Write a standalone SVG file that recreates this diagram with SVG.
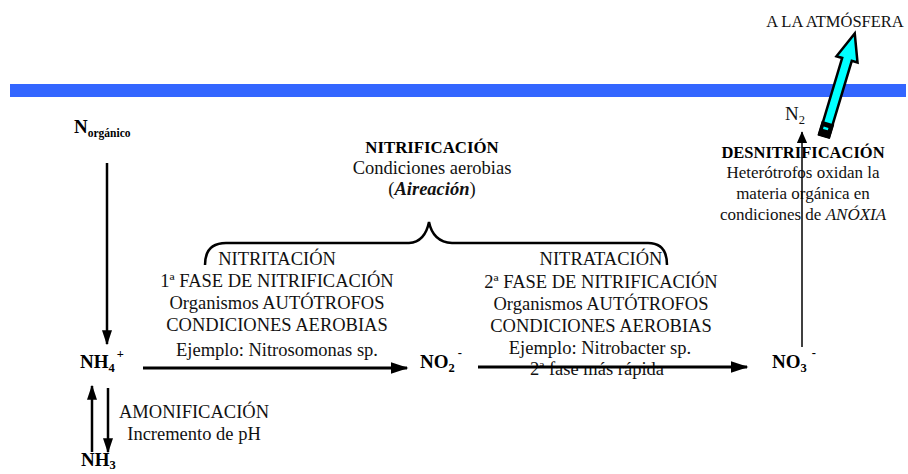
<svg xmlns="http://www.w3.org/2000/svg" width="908" height="474" viewBox="0 0 908 474">
<defs>
<marker id="ah" markerWidth="6" markerHeight="4" refX="5.5" refY="2" orient="auto" markerUnits="strokeWidth"><path d="M0,0 L6,2 L0,4 Z" fill="#000"/></marker>
<marker id="ahThin" markerWidth="8" markerHeight="7" refX="7.5" refY="3.5" orient="auto" markerUnits="strokeWidth"><path d="M0,0 L8,3.5 L0,7 Z" fill="#000"/></marker>
</defs>
<style>
text{font-family:"Liberation Serif","Times New Roman",serif;fill:#111}
.r{font-size:18.5px}
.m{text-anchor:middle}
.b{font-weight:bold;fill:#000}
.f{font-size:19px;font-weight:bold;fill:#000}
.sub{font-size:12.5px}
.line{stroke:#000;fill:none}
</style>
<rect id="surface" x="10" y="84" width="896" height="13" fill="#3366FF"/>
<g id="atmosfera">
<text x="835" y="27" class="m" style="font-size:16.5px">A LA ATMÓSFERA</text>
</g>
<g id="arrow-atm" transform="translate(824,136) rotate(16.7)">
<polygon points="-5,0 -5,-80 -11,-80 0,-107 11,-80 5,-80 5,0" fill="#00FFFF" stroke="#000" stroke-width="2.5" stroke-linejoin="miter"/>
<rect x="-6.5" y="-14" width="13" height="15" fill="#000"/>
<rect x="-3" y="-9" width="5" height="2.5" fill="#00FFFF"/>
</g>
<g id="n2"><text x="785" y="120" style="font-size:19px">N<tspan class="sub" dy="4">2</tspan></text></g>
<g id="norganico"><text x="74" y="133" class="f">N<tspan style="font-size:11.5px" dy="4">orgánico</tspan></text></g>
<g id="nh4"><text x="80" y="368" class="f">NH<tspan class="sub" dy="4">4</tspan><tspan class="sub" dx="2" dy="-14">+</tspan></text></g>
<g id="nh3"><text x="81" y="466" class="f">NH<tspan class="sub" dy="3">3</tspan></text></g>
<g id="no2"><text x="420" y="368" class="f">NO<tspan class="sub" dy="4">2</tspan><tspan class="sub" dx="3" dy="-15">-</tspan></text></g>
<g id="no3"><text x="772" y="368" class="f">NO<tspan class="sub" dy="4">3</tspan><tspan class="sub" dx="5" dy="-15">-</tspan></text></g>
<g id="nitrificacion">
<text x="432" y="153" class="m b" style="font-size:16.8px">NITRIFICACIÓN</text>
<text x="432" y="174" class="m r">Condiciones aerobias</text>
<text x="432" y="195" class="m r">(<tspan font-weight="bold" font-style="italic">Aireación</tspan>)</text>
</g>
<g id="nitritacion">
<text x="277" y="265" class="m r">NITRITACIÓN</text>
<text x="277" y="287" class="m r">1ª FASE DE NITRIFICACIÓN</text>
<text x="277" y="309" class="m r">Organismos AUTÓTROFOS</text>
<text x="277" y="331" class="m r">CONDICIONES AEROBIAS</text>
<text x="277" y="356" class="m r">Ejemplo: Nitrosomonas sp.</text>
</g>
<g id="nitratacion">
<text x="601" y="265" class="m r">NITRATACIÓN</text>
<text x="601" y="288" class="m r">2ª FASE DE NITRIFICACIÓN</text>
<text x="601" y="310" class="m r">Organismos AUTÓTROFOS</text>
<text x="601" y="332" class="m r">CONDICIONES AEROBIAS</text>
<text x="600" y="354" class="m r">Ejemplo: Nitrobacter sp.</text>
<text x="597" y="375" class="m r">2ª fase más rápida</text>
</g>
<g id="desnitrificacion">
<text x="803" y="158" class="m b" style="font-size:16.5px">DESNITRIFICACIÓN</text>
<text x="803" y="178" class="m" style="font-size:17px">Heterótrofos oxidan la</text>
<text x="803" y="199" class="m" style="font-size:17px">materia orgánica  en</text>
<text x="803" y="220" class="m" style="font-size:17px">condiciones de <tspan font-style="italic">ANÓXIA</tspan></text>
</g>
<g id="amonificacion">
<text x="194" y="418" class="m r">AMONIFICACIÓN</text>
<text x="194" y="440" class="m r">Incremento de pH</text>
</g>
<g id="connectors">
<path class="line" d="M205,265 Q205,243 226,243 L409,243 Q425,242 429,222 Q433,242 452,243 L648,243 Q667,243 667,265" stroke-width="2.5"/>
<line class="line" x1="107" y1="163" x2="107" y2="344" stroke-width="2.5" marker-end="url(#ah)"/>
<line class="line" x1="143" y1="368" x2="407" y2="368" stroke-width="3" marker-end="url(#ah)"/>
<line class="line" x1="478" y1="367" x2="747" y2="367" stroke-width="3" marker-end="url(#ah)"/>
<line class="line" x1="92" y1="452" x2="92" y2="386" stroke-width="2.5" marker-end="url(#ah)"/>
<line class="line" x1="108" y1="388" x2="108" y2="452" stroke-width="2.5" marker-end="url(#ah)"/>
<line class="line" x1="802" y1="347" x2="802" y2="132" stroke-width="1.5" marker-end="url(#ahThin)"/>
</g>
</svg>
